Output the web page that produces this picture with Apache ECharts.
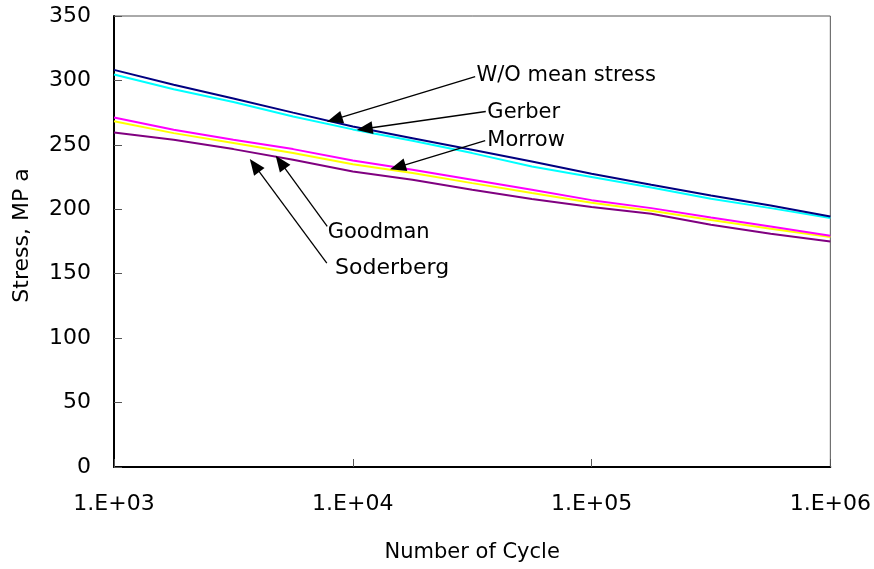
<!DOCTYPE html>
<html>
<head>
<meta charset="utf-8">
<script src="https://cdn.jsdelivr.net/npm/echarts@6/dist/echarts.min.js"></script>
<style>html,body{margin:0;padding:0;background:#fff}#c{width:874px;height:569px}</style>
</head>
<body>
<div id="c"></div>
<script>
const cycles = [1000, 1778, 3162, 5623, 10000, 17783, 31623, 56234, 100000, 177828, 316228, 562341, 1000000];
const woMean = [308.2, 296.6, 286.0, 275.0, 264.2, 255.2, 246.2, 237.1, 227.5, 219.0, 210.7, 203.0, 194.4];
const gerber = [304.6, 293.2, 283.2, 272.0, 262.0, 253.2, 243.6, 233.2, 225.1, 216.9, 208.2, 200.9, 193.2];
const morrow = [271.2, 261.7, 254.0, 246.7, 237.8, 230.7, 222.9, 215.1, 207.1, 200.9, 193.7, 186.7, 179.5];
const goodman = [268.4, 259.1, 251.4, 243.6, 234.9, 228.1, 220.3, 212.6, 205.0, 198.9, 191.6, 184.9, 178.5];
const soderberg = [259.6, 253.9, 246.7, 238.4, 229.3, 222.9, 215.1, 207.9, 201.7, 196.5, 188.0, 181.0, 175.0];
const yTicks = [0, 50, 100, 150, 200, 250, 300, 350];

// annotation texts: [label, x, y, fontSize]
const notes = [
  ['W/O mean stress', 32790, 303.8, 21],
  ['Gerber', 36440, 275.3, 21],
  ['Morrow', 36440, 253.3, 21],
  ['Goodman', 7816, 181.8, 21],
  ['Soderberg', 8385, 154.4, 22]
];
// arrows: [fromX, fromY, toX, toY] (to = centre of the arrow head)
const arrows = [
  [32550, 303.0, 8385, 269.7],
  [36060, 275.9, 11212, 262.5],
  [35850, 253.2, 15435, 232.8],
  [7816, 186.7, 4977, 236.6],
  [7785, 158.3, 3879, 234.1]
];

const FONT = 'DejaVu Sans';
function mk(name, vals, color) {
  return {
    name: name, type: 'line', showSymbol: false, symbol: 'none', silent: true,
    lineStyle: { color: color, width: 2 },
    data: cycles.map((c, i) => [c, vals[i]])
  };
}
const chart = echarts.init(document.getElementById('c'), null, { renderer: 'canvas' });
chart.setOption({
  animation: false,
  backgroundColor: '#fff',
  grid: { left: 114, right: 42, top: 16, bottom: 102, show: true, borderColor: '#555', borderWidth: 1 },
  xAxis: {
    type: 'log', logBase: 10, min: 1000, max: 1000000,
    name: 'Number of Cycle', nameLocation: 'middle', nameGap: 75,
    nameTextStyle: { fontFamily: FONT, fontSize: 21, color: '#000' },
    axisLine: { lineStyle: { color: '#000', width: 2 } },
    axisTick: { inside: true, length: 8, lineStyle: { color: '#555', width: 1 } },
    axisLabel: {
      fontFamily: FONT, fontSize: 22, color: '#000', margin: 26,
      formatter: v => { const e = Math.round(Math.log10(v)); return '1.E+' + (e < 10 ? '0' : '') + e; }
    },
    splitLine: { show: false }, minorTick: { show: false }
  },
  yAxis: {
    type: 'value', min: 0, max: 350, interval: 50,
    name: 'Stress, MP a', nameLocation: 'middle', nameGap: 81, nameRotate: 90,
    nameTextStyle: { fontFamily: FONT, fontSize: 22, color: '#000', padding: [0, 0, 0, 12] },
    axisLine: { show: true, lineStyle: { color: '#000', width: 2 } },
    axisTick: { show: true, inside: true, length: 8, lineStyle: { color: '#555', width: 1 } },
    axisLabel: { fontFamily: FONT, fontSize: 22, color: '#000', margin: 23,
      formatter: v => yTicks.indexOf(v) >= 0 ? String(v) : '' },
    splitLine: { show: false }
  },
  series: [
    mk('Soderberg', soderberg, '#800080'),
    mk('Goodman', goodman, '#FFFF00'),
    mk('Morrow', morrow, '#FF00FF'),
    mk('Gerber', gerber, '#00FFFF'),
    mk('W/O mean stress', woMean, '#000080'),
    {
      name: 'notes', type: 'scatter', symbolSize: 1, silent: true, z: 10,
      itemStyle: { opacity: 0 },
      data: notes.map(n => ({
        value: [n[1], n[2]],
        label: { show: true, position: 'right', distance: 0, formatter: n[0],
          fontFamily: FONT, fontSize: n[3], color: '#000', opacity: 1 }
      }))
    },
    {
      name: 'arrows', type: 'line', data: [], silent: true, z: 11,
      markLine: {
        silent: true, animation: false,
        symbol: ['none', 'triangle'], symbolSize: 15,
        itemStyle: { color: '#000' },
        lineStyle: { color: '#000', width: 1.3, type: 'solid' },
        label: { show: false },
        emphasis: { disabled: true },
        data: arrows.map(a => [
          { coord: [a[0], a[1]], symbol: 'none' },
          { coord: [a[2], a[3]], symbol: 'triangle', symbolSize: [13, 16] }
        ])
      }
    }
  ]
});
</script>
</body>
</html>
